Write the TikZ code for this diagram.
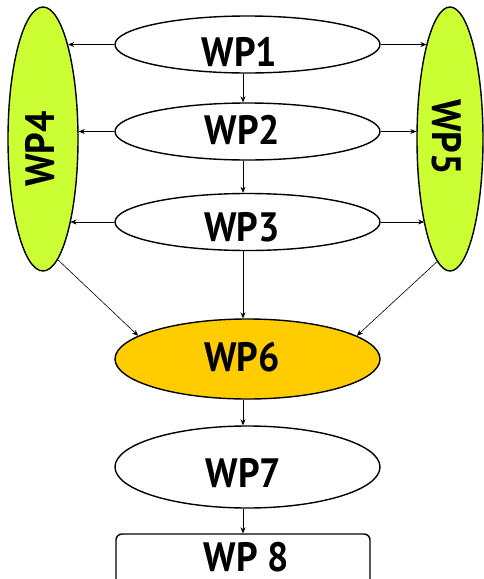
\documentclass[tikz,border=0pt]{standalone}
\usepackage{fontspec}
\setmainfont{PT Sans}[FakeStretch=0.92]
\usetikzlibrary{shapes.geometric,arrows.meta}
\definecolor{lime}{HTML}{CCFF33}
\definecolor{gold}{HTML}{FFCC00}
\begin{document}
\begin{tikzpicture}[x=1pt,y=-1pt,
  wp/.style={ellipse,draw,line width=1.4pt,minimum width=265pt,minimum height=57pt,inner sep=0pt},
  side/.style={ellipse,draw,line width=1.4pt,fill=lime,minimum height=264pt,inner sep=0pt},
  lbl/.style={inner sep=0pt,font=\fontsize{41}{41}\selectfont\bfseries},
  conn/.style={-{Stealth[length=6pt,width=5pt]},line width=0.6pt}]
\useasboundingbox (0,0) rectangle (483,579);
% ellipses
\node[wp] (wp1) at (247.5,44.5) {};
\node[wp] (wp2) at (247.5,131.5) {};
\node[wp] (wp3) at (247.5,222) {};
\node[wp,fill=gold,minimum height=80pt] (wp6) at (247.5,359) {};
\node[wp,minimum height=82pt] (wp7) at (247.5,467) {};
\node[draw,rounded corners=6pt,line width=1.4pt,minimum width=254pt,minimum height=54pt,inner sep=0pt] (wp8) at (243,561) {};
\node[side,minimum width=70pt] (wp4) at (43,139) {};
\node[side,minimum width=66pt] (wp5) at (450,139) {};
% labels
\node[lbl] (t1) at (239.5,52.5) {WP1};
\node[lbl] (t2) at (242.5,130) {WP2};
\node[lbl] (t3) at (242,227.5) {WP3};
\node[lbl] (t6) at (242,357) {WP6};
\node[lbl] (t7) at (243.5,473) {WP7};
\node[lbl] (t8) at (246.5,557) {WP 8};
\node[lbl,rotate=90] (t4) at (40,149) {WP4};
\node[lbl,rotate=-90] (t5) at (447,137) {WP5};
% spine
\coordinate (spine) at (243,0);
\draw[conn] (wp1.south -| spine) -- (wp2.north -| spine);
\draw[conn] (wp2.south -| spine) -- (wp3.north -| spine);
\draw[conn] (wp3.south -| spine) -- (wp6.north -| spine);
\draw[conn] (wp6.south -| spine) -- (wp7.north -| spine);
\draw[conn] (wp7.south -| spine) -- (wp8.north -| spine);
% horizontal to side ellipses
\draw[conn] (wp1.west) -- (wp4.75 |- wp1.west);
\draw[conn] (wp2.west) -- (wp4.0 |- wp2.west);
\draw[conn] (wp3.west) -- (wp4.-72 |- wp3.west);
\draw[conn] (wp1.east) -- (wp5.104 |- wp1.east);
\draw[conn] (wp2.east) -- (wp5.180 |- wp2.east);
\draw[conn] (wp3.east) -- (wp5.-107 |- wp3.east);
% diagonals
\draw[conn] (wp4.-83) -- (wp6.168);
\draw[conn] (wp5.-96) -- (wp6.12);
\end{tikzpicture}
\end{document}
